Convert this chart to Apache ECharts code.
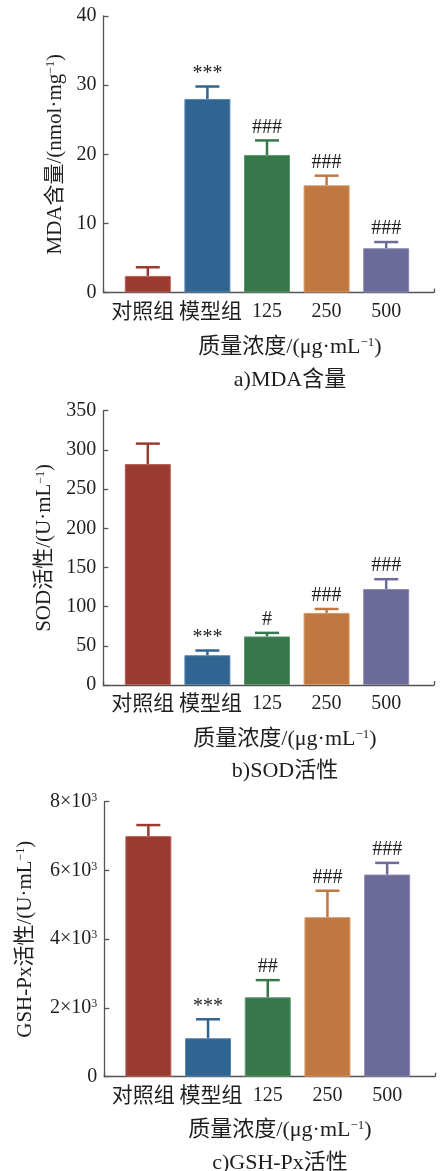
<!DOCTYPE html>
<html>
<head>
<meta charset="utf-8">
<script src="https://cdn.jsdelivr.net/npm/echarts@6/dist/echarts.min.js"></script>
<style>
  html, body { margin: 0; padding: 0; background: #fff; }
  #chart { width: 440px; height: 1171px; }
</style>
</head>
<body>
<div id="chart"></div>
<script>
// Groups shown on every panel
const categories = ['对照组', '模型组', '125', '250', '500'];

// a) MDA content, nmol·mg⁻¹
const mdaMean = [2.4, 28.0, 19.9, 15.5, 6.4];
const mdaErr = [1.25, 1.8, 2.1, 1.4, 0.9];
const mdaMarks = ['', '***', '###', '###', '###'];
const mdaTicks = [0, 10, 20, 30, 40];

// b) SOD activity, U·mL⁻¹
const sodMean = [282, 38, 62, 92, 122.5];
const sodErr = [26, 6, 4.5, 5, 12.5];
const sodMarks = ['', '***', '#', '###', '###'];
const sodTicks = [0, 50, 100, 150, 200, 250, 300, 350];

// c) GSH-Px activity, U·mL⁻¹
const gshMean = [7000, 1120, 2310, 4640, 5880];
const gshErr = [320, 550, 500, 770, 340];
const gshMarks = ['', '***', '##', '###', '###'];
const gshTicks = [0, 2000, 4000, 6000, 8000];

// Bar fill per group
const palette = ['#993b30', '#306591', '#37784a', '#c17840', '#6b6a98'];
const edge = ['#b8625a', '#5a86ad', '#5f9870', '#d4976a', '#8b8ab2'];
// label style per group: the two Chinese names are set a bit larger and pushed apart
const labelStyle = [
  { fontSize: 21, padding: [0, 10, 0, 0] },
  { fontSize: 21, padding: [0, 0, 0, 6] },
  {}, {}, {}
];

const FONT = '"Liberation Serif", "Noto Sans CJK SC", serif';
const INK = '#1e1e1e';
const AXIS = '#555';

const panels = [
  {
    mean: mdaMean, err: mdaErr, marks: mdaMarks, ticks: mdaTicks,
    yName: '{t|MDA含量/(nmol·mg}{s|−1}{t|)}', caption: 'a)MDA含量',
    top: 16, bottom: 292.5, axisX: 103.5, axisRight: 434,
    barLeft: 118, barSpan: 298, nameGap: 35, centerX: 285, xNameY: 344, captionY: 377,
    fmt: v => String(v)
  },
  {
    mean: sodMean, err: sodErr, marks: sodMarks, ticks: sodTicks,
    yName: '{t|SOD活性/(U·mL}{s|−1}{t|)}', caption: 'b)SOD活性',
    top: 410.7, bottom: 685, axisX: 103.3, axisRight: 434,
    barLeft: 118, barSpan: 298, nameGap: 46, centerX: 280, xNameY: 736, captionY: 768,
    fmt: v => String(v)
  },
  {
    mean: gshMean, err: gshErr, marks: gshMarks, ticks: gshTicks,
    yName: '{t|GSH-Px活性/(U·mL}{s|−1}{t|)}', caption: 'c)GSH-Px活性',
    top: 801.7, bottom: 1076.7, axisX: 104.3, axisRight: 435,
    barLeft: 118.5, barSpan: 298.5, nameGap: 68, centerX: 275, xNameY: 1127, captionY: 1160,
    fmt: v => v === 0 ? '{n|0}' : '{n|' + (v / 1000) + '×10}{s|3}'
  }
];

const grid = [], xAxis = [], yAxis = [], series = [], title = [];

panels.forEach((p, k) => {
  const gA = 2 * k, gB = 2 * k + 1;
  const yMin = p.ticks[0], yMax = p.ticks[p.ticks.length - 1];
  const step = p.ticks[1] - p.ticks[0];
  const h = p.bottom - p.top;

  // frame grid: axis lines and value ticks
  grid.push({ left: p.axisX, top: p.top, width: p.axisRight - p.axisX, height: h });
  // bar grid: categories
  grid.push({ left: p.barLeft, top: p.top, width: p.barSpan, height: h });

  xAxis.push({
    gridIndex: gA, type: 'value', min: 0, max: 1, interval: 1,
    axisLine: { show: true, lineStyle: { color: AXIS, width: 1.3 } },
    axisTick: { show: true, inside: true, length: 4, lineStyle: { color: AXIS, width: 1.3 } },
    axisLabel: { show: false }, splitLine: { show: false }
  });
  xAxis.push({
    gridIndex: gB, type: 'category',
    data: categories.map((c, i) => ({ value: c, textStyle: labelStyle[i] })),
    axisLine: { show: false }, axisTick: { show: false },
    axisLabel: { margin: 9, fontFamily: FONT, fontSize: 20, color: INK, interval: 0 }
  });

  yAxis.push({
    gridIndex: gA, type: 'value', min: yMin, max: yMax, interval: step,
    axisLine: { show: true, lineStyle: { color: AXIS, width: 1.3 } },
    axisTick: { show: true, inside: true, length: 5, lineStyle: { color: AXIS, width: 1.3 } },
    splitLine: { show: false },
    axisLabel: {
      margin: 7, fontFamily: FONT, fontSize: 20, color: INK, formatter: p.fmt,
      rich: {
        n: { fontFamily: FONT, fontSize: 20, color: INK },
        s: { fontFamily: FONT, fontSize: 12, color: INK, verticalAlign: 'top', padding: [0, 0, 8, 0] }
      }
    },
    name: p.yName, nameLocation: 'middle', nameGap: p.nameGap, nameRotate: 90,
    nameTextStyle: {
      rich: {
        t: { fontFamily: FONT, fontSize: 21, color: INK },
        s: { fontFamily: FONT, fontSize: 12, color: INK, padding: [0, 0, 9, 0] }
      }
    }
  });
  yAxis.push({
    gridIndex: gB, type: 'value', min: yMin, max: yMax, interval: step, show: false
  });

  series.push({
    type: 'bar', xAxisIndex: gB, yAxisIndex: gB, barWidth: 46, z: 3,
    data: p.mean.map((v, i) => ({
      value: v,
      itemStyle: { color: palette[i], borderColor: edge[i], borderWidth: 1 }
    }))
  });

  // upper error bar with significance mark above its cap
  const marks = p.marks;
  series.push({
    type: 'custom', xAxisIndex: gB, yAxisIndex: gB, z: 4,
    data: p.mean.map((v, i) => [i, v, p.err[i]]),
    renderItem: (params, api) => {
      const i = api.value(0), m = api.value(1), e = api.value(2);
      const base = api.coord([i, m]);
      const cap = api.coord([i, m + e]);
      const col = palette[params.dataIndex];
      const half = 12;
      const children = [
        { type: 'line', shape: { x1: base[0], y1: base[1], x2: cap[0], y2: cap[1] },
          style: { stroke: col, lineWidth: 2.5 } },
        { type: 'line', shape: { x1: cap[0] - half, y1: cap[1], x2: cap[0] + half, y2: cap[1] },
          style: { stroke: col, lineWidth: 2.5 } }
      ];
      const mk = marks[params.dataIndex];
      if (mk) {
        children.push({
          type: 'text',
          style: {
            x: cap[0], y: cap[1] - 3, text: mk, align: 'center', verticalAlign: 'bottom',
            font: '20px ' + FONT, fill: INK
          }
        });
      }
      return { type: 'group', children };
    }
  });

  title.push({
    text: '{t|质量浓度/(μg·mL}{s|−1}{t|)}', left: p.centerX, top: p.xNameY - 13, textAlign: 'center',
    textStyle: {
      fontWeight: 'normal',
      rich: {
        t: { fontFamily: FONT, fontSize: 22, fontWeight: 'normal', color: INK },
        s: { fontFamily: FONT, fontSize: 13, fontWeight: 'normal', color: INK, padding: [0, 0, 10, 0] }
      }
    }
  });
  title.push({
    text: p.caption, left: p.centerX, top: p.captionY - 13, textAlign: 'center',
    textStyle: { fontFamily: FONT, fontSize: 22, fontWeight: 'normal', color: INK }
  });
});

const chart = echarts.init(document.getElementById('chart'), null, { renderer: 'canvas' });
chart.setOption({
  animation: false,
  backgroundColor: '#fff',
  title, grid, xAxis, yAxis, series
});
</script>
</body>
</html>
